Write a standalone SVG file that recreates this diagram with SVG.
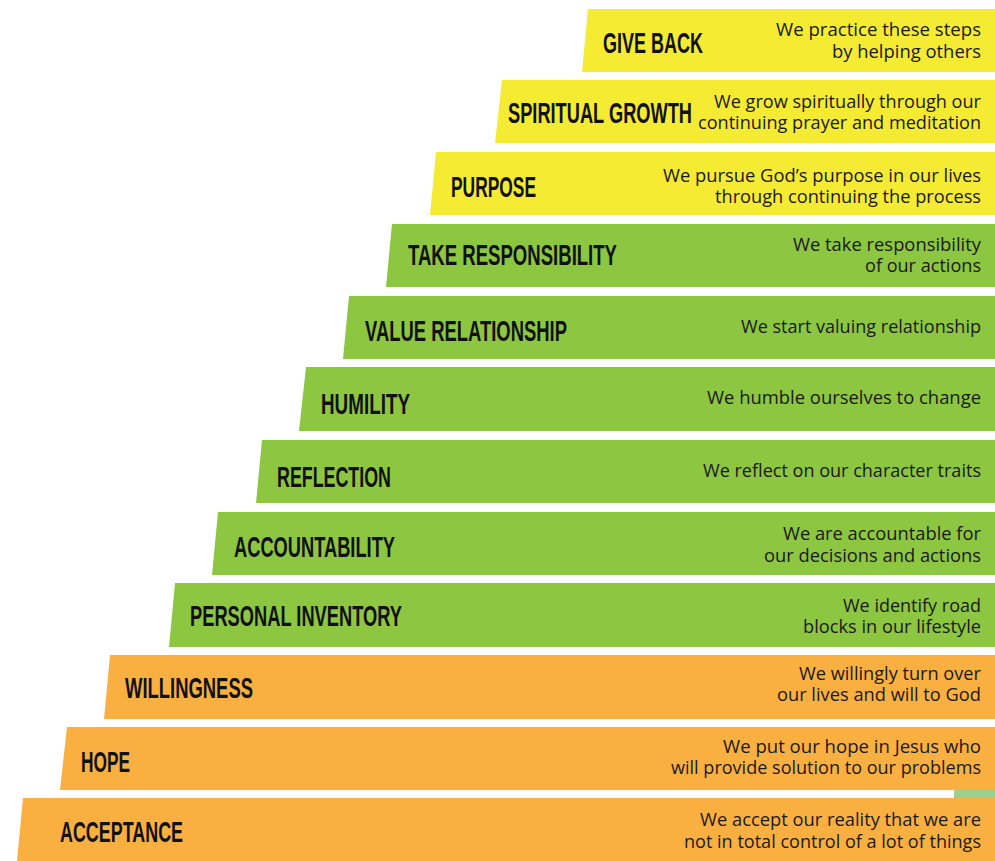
<svg xmlns="http://www.w3.org/2000/svg" width="995" height="861" viewBox="0 0 995 861">
  <style>
    .yellow { fill: #f6eb33; }
    .green { fill: #8dc641; }
    .orange { fill: #fab041; }
    .label { font-family: "Liberation Sans", Arial, sans-serif; font-weight: bold; font-size: 30px; fill: #111111; }
    .desc { font-family: "Open Sans", "Liberation Sans", sans-serif; font-size: 17.5px; fill: #1a1a1a; }
  </style>
  <rect width="995" height="861" fill="#ffffff"/>
  <!-- small strip peeking out behind the bottom step -->
  <rect x="954" y="790" width="41" height="8" fill="#9dcd8f"/>

  <g id="step-give-back">
    <polygon class="yellow" points="588,9 995,9 995,72 582,72"/>
    <text class="label" x="603" y="53" textLength="100" lengthAdjust="spacingAndGlyphs">GIVE BACK</text>
    <text class="desc" x="776" y="36" textLength="205" lengthAdjust="spacingAndGlyphs">We practice these steps</text>
    <text class="desc" x="832" y="58" textLength="149" lengthAdjust="spacingAndGlyphs">by helping others</text>
  </g>

  <g id="step-spiritual-growth">
    <polygon class="yellow" points="502,80 995,80 995,143 495,143"/>
    <text class="label" x="508" y="123" textLength="184" lengthAdjust="spacingAndGlyphs">SPIRITUAL GROWTH</text>
    <text class="desc" x="714" y="108" textLength="267" lengthAdjust="spacingAndGlyphs">We grow spiritually through our</text>
    <text class="desc" x="698" y="129" textLength="283" lengthAdjust="spacingAndGlyphs">continuing prayer and meditation</text>
  </g>

  <g id="step-purpose">
    <polygon class="yellow" points="436,152 995,152 995,215 430,215"/>
    <text class="label" x="451" y="197" textLength="85" lengthAdjust="spacingAndGlyphs">PURPOSE</text>
    <text class="desc" x="663" y="182" textLength="318" lengthAdjust="spacingAndGlyphs">We pursue God’s purpose in our lives</text>
    <text class="desc" x="715" y="203" textLength="266" lengthAdjust="spacingAndGlyphs">through continuing the process</text>
  </g>

  <g id="step-take-responsibility">
    <polygon class="green" points="392,224 995,224 995,287 386,287"/>
    <text class="label" x="408" y="265" textLength="209" lengthAdjust="spacingAndGlyphs">TAKE RESPONSIBILITY</text>
    <text class="desc" x="793" y="251" textLength="188" lengthAdjust="spacingAndGlyphs">We take responsibility</text>
    <text class="desc" x="865" y="272" textLength="116" lengthAdjust="spacingAndGlyphs">of our actions</text>
  </g>

  <g id="step-value-relationship">
    <polygon class="green" points="349,296 995,296 995,359 343,359"/>
    <text class="label" x="365" y="341" textLength="202" lengthAdjust="spacingAndGlyphs">VALUE RELATIONSHIP</text>
    <text class="desc" x="741" y="333" textLength="240" lengthAdjust="spacingAndGlyphs">We start valuing relationship</text>
  </g>

  <g id="step-humility">
    <polygon class="green" points="306,367 995,367 995,431 299,431"/>
    <text class="label" x="321" y="414" textLength="89" lengthAdjust="spacingAndGlyphs">HUMILITY</text>
    <text class="desc" x="707" y="404" textLength="274" lengthAdjust="spacingAndGlyphs">We humble ourselves to change</text>
  </g>

  <g id="step-reflection">
    <polygon class="green" points="262,440 995,440 995,503 256,503"/>
    <text class="label" x="277" y="487" textLength="114" lengthAdjust="spacingAndGlyphs">REFLECTION</text>
    <text class="desc" x="703" y="477" textLength="278" lengthAdjust="spacingAndGlyphs">We reflect on our character traits</text>
  </g>

  <g id="step-accountability">
    <polygon class="green" points="218,512 995,512 995,575 212,575"/>
    <text class="label" x="234" y="557" textLength="161" lengthAdjust="spacingAndGlyphs">ACCOUNTABILITY</text>
    <text class="desc" x="783" y="540" textLength="198" lengthAdjust="spacingAndGlyphs">We are accountable for</text>
    <text class="desc" x="764" y="562" textLength="217" lengthAdjust="spacingAndGlyphs">our decisions and actions</text>
  </g>

  <g id="step-personal-inventory">
    <polygon class="green" points="175,583 995,583 995,647 169,647"/>
    <text class="label" x="190" y="626" textLength="212" lengthAdjust="spacingAndGlyphs">PERSONAL INVENTORY</text>
    <text class="desc" x="843" y="612" textLength="138" lengthAdjust="spacingAndGlyphs">We identify road</text>
    <text class="desc" x="803" y="633" textLength="178" lengthAdjust="spacingAndGlyphs">blocks in our lifestyle</text>
  </g>

  <g id="step-willingness">
    <polygon class="orange" points="110,655 995,655 995,719 104,719"/>
    <text class="label" x="125" y="698" textLength="128" lengthAdjust="spacingAndGlyphs">WILLINGNESS</text>
    <text class="desc" x="799" y="680" textLength="182" lengthAdjust="spacingAndGlyphs">We willingly turn over</text>
    <text class="desc" x="777" y="701" textLength="204" lengthAdjust="spacingAndGlyphs">our lives and will to God</text>
  </g>

  <g id="step-hope">
    <polygon class="orange" points="67,727 995,727 995,790 60,790"/>
    <text class="label" x="81" y="772" textLength="49" lengthAdjust="spacingAndGlyphs">HOPE</text>
    <text class="desc" x="723" y="753" textLength="258" lengthAdjust="spacingAndGlyphs">We put our hope in Jesus who</text>
    <text class="desc" x="671" y="774" textLength="310" lengthAdjust="spacingAndGlyphs">will provide solution to our problems</text>
  </g>

  <g id="step-acceptance">
    <polygon class="orange" points="23,798 995,798 995,861 17,861"/>
    <text class="label" x="60" y="842" textLength="123" lengthAdjust="spacingAndGlyphs">ACCEPTANCE</text>
    <text class="desc" x="700" y="826" textLength="281" lengthAdjust="spacingAndGlyphs">We accept our reality that we are</text>
    <text class="desc" x="684" y="848" textLength="297" lengthAdjust="spacingAndGlyphs">not in total control of a lot of things</text>
  </g>
</svg>
